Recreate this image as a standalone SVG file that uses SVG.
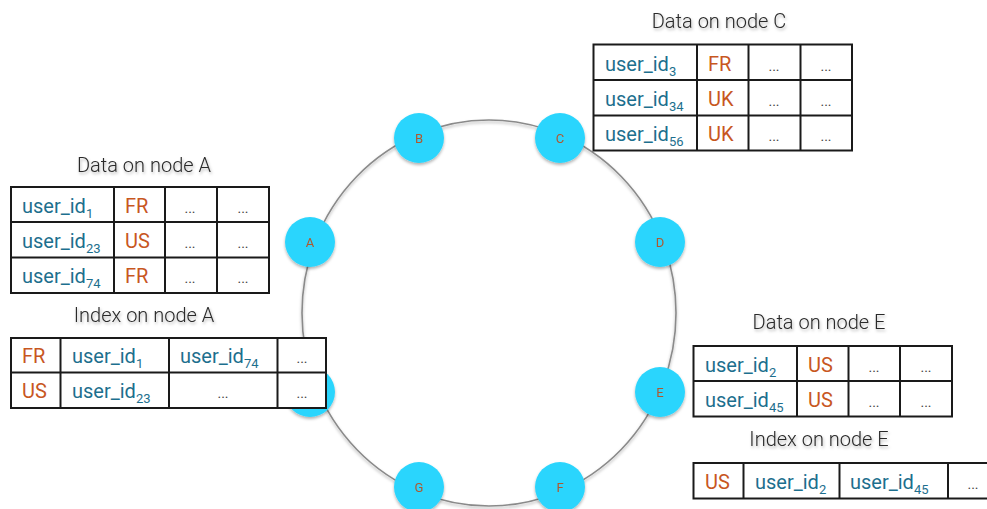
<svg xmlns="http://www.w3.org/2000/svg" width="987" height="509" viewBox="0 0 987 509">
  <defs>
    <filter id="shadow" x="-30%" y="-30%" width="160%" height="170%">
      <feDropShadow dx="0" dy="2" stdDeviation="1.5" flood-color="#000" flood-opacity="0.3"/>
    </filter>
    <filter id="tshadow" x="-10%" y="-40%" width="120%" height="200%">
      <feDropShadow dx="1" dy="2" stdDeviation="1.6" flood-color="#000" flood-opacity="0.3"/>
    </filter>
  </defs>
  <style>
    .ring { fill: none; stroke: #8a8a8a; stroke-width: 1.6; }
    .node circle { fill: #2bd5fd; }
    .node text { font-family: Roboto, "Liberation Sans", sans-serif; font-size: 13px; fill: #b0582e; text-anchor: middle; }
    .title { font-family: Roboto, "Liberation Sans", sans-serif; font-weight: 300; font-size: 20px; fill: #2a2a2a; text-anchor: middle; }
    .grid { fill: #fff; stroke: #1a1a1a; stroke-width: 2; }
    .line { stroke: #1a1a1a; stroke-width: 2; }
    .id { font-family: Roboto, "Liberation Sans", sans-serif; font-size: 20px; fill: #1d6f8e; }
    .cc { font-family: Roboto, "Liberation Sans", sans-serif; font-size: 20px; fill: #c8571f; }
    .sub { font-size: 13px; }
    .dots { font-family: Roboto, "Liberation Sans", sans-serif; font-size: 14px; fill: #444; text-anchor: middle; }
  </style>

  <!-- ring connecting the nodes -->
  <g id="connectors">
    <ellipse class="ring" cx="489" cy="313" rx="187" ry="193" filter="url(#shadow)"/>
  </g>

  <!-- nodes on the ring -->
  <g id="node-a" class="node" filter="url(#shadow)"><circle cx="310" cy="242" r="25"/><text x="310" y="247">A</text></g>
  <g id="node-b" class="node" filter="url(#shadow)"><circle cx="419" cy="138" r="25"/><text x="419" y="143">B</text></g>
  <g id="node-c" class="node" filter="url(#shadow)"><circle cx="560" cy="138" r="25"/><text x="560" y="143">C</text></g>
  <g id="node-d" class="node" filter="url(#shadow)"><circle cx="660" cy="242" r="25"/><text x="660" y="247">D</text></g>
  <g id="node-e" class="node" filter="url(#shadow)"><circle cx="660" cy="392" r="25"/><text x="660" y="397">E</text></g>
  <g id="node-f" class="node" filter="url(#shadow)"><circle cx="560" cy="487" r="25"/><text x="560" y="492">F</text></g>
  <g id="node-g" class="node" filter="url(#shadow)"><circle cx="419" cy="487" r="25"/><text x="419" y="492">G</text></g>
  <g id="node-h" class="node" filter="url(#shadow)"><circle cx="310" cy="392" r="25"/></g>

  <!-- Data on node A -->
  <g id="data-a">
    <text class="title" x="144" y="172" filter="url(#tshadow)">Data on node A</text>
    <rect class="grid" x="11" y="187" width="258" height="106"/>
    <line class="line" x1="114" y1="187" x2="114" y2="293"/>
    <line class="line" x1="165" y1="187" x2="165" y2="293"/>
    <line class="line" x1="217" y1="187" x2="217" y2="293"/>
    <line class="line" x1="11" y1="222" x2="269" y2="222"/>
    <line class="line" x1="11" y1="257.5" x2="269" y2="257.5"/>
    <text class="id" x="22" y="213">user_id<tspan class="sub" dy="5">1</tspan></text>
    <text class="id" x="22" y="248">user_id<tspan class="sub" dy="5">23</tspan></text>
    <text class="id" x="22" y="283">user_id<tspan class="sub" dy="5">74</tspan></text>
    <text class="cc" x="125" y="213">FR</text>
    <text class="cc" x="125" y="248">US</text>
    <text class="cc" x="125" y="283">FR</text>
    <text class="dots" x="190" y="213">...</text><text class="dots" x="243" y="213">...</text>
    <text class="dots" x="190" y="248">...</text><text class="dots" x="243" y="248">...</text>
    <text class="dots" x="190" y="283">...</text><text class="dots" x="243" y="283">...</text>
  </g>

  <!-- Index on node A -->
  <g id="index-a">
    <text class="title" x="144" y="322" filter="url(#tshadow)">Index on node A</text>
    <rect class="grid" x="11" y="338" width="315" height="70"/>
    <line class="line" x1="60.5" y1="338" x2="60.5" y2="408"/>
    <line class="line" x1="169" y1="338" x2="169" y2="408"/>
    <line class="line" x1="277.5" y1="338" x2="277.5" y2="408"/>
    <line class="line" x1="11" y1="372.5" x2="326" y2="372.5"/>
    <text class="cc" x="22" y="363">FR</text>
    <text class="cc" x="22" y="398">US</text>
    <text class="id" x="72" y="363">user_id<tspan class="sub" dy="5">1</tspan></text>
    <text class="id" x="180" y="363">user_id<tspan class="sub" dy="5">74</tspan></text>
    <text class="id" x="72" y="398">user_id<tspan class="sub" dy="5">23</tspan></text>
    <text class="dots" x="302" y="363">...</text>
    <text class="dots" x="223" y="398">...</text>
    <text class="dots" x="302" y="398">...</text>
  </g>

  <!-- Data on node C -->
  <g id="data-c">
    <text class="title" x="719" y="28" filter="url(#tshadow)">Data on node C</text>
    <rect class="grid" x="593.5" y="44.5" width="258.5" height="106"/>
    <line class="line" x1="697" y1="44.5" x2="697" y2="150.5"/>
    <line class="line" x1="748.5" y1="44.5" x2="748.5" y2="150.5"/>
    <line class="line" x1="800.5" y1="44.5" x2="800.5" y2="150.5"/>
    <line class="line" x1="593.5" y1="80" x2="852" y2="80"/>
    <line class="line" x1="593.5" y1="115.5" x2="852" y2="115.5"/>
    <text class="id" x="605" y="71">user_id<tspan class="sub" dy="5">3</tspan></text>
    <text class="id" x="605" y="106">user_id<tspan class="sub" dy="5">34</tspan></text>
    <text class="id" x="605" y="141">user_id<tspan class="sub" dy="5">56</tspan></text>
    <text class="cc" x="708" y="71">FR</text>
    <text class="cc" x="708" y="106">UK</text>
    <text class="cc" x="708" y="141">UK</text>
    <text class="dots" x="774" y="71">...</text><text class="dots" x="826" y="71">...</text>
    <text class="dots" x="774" y="106">...</text><text class="dots" x="826" y="106">...</text>
    <text class="dots" x="774" y="141">...</text><text class="dots" x="826" y="141">...</text>
  </g>

  <!-- Data on node E -->
  <g id="data-e">
    <text class="title" x="819" y="329" filter="url(#tshadow)">Data on node E</text>
    <rect class="grid" x="693.5" y="346" width="258.5" height="70.5"/>
    <line class="line" x1="797" y1="346" x2="797" y2="416.5"/>
    <line class="line" x1="848.5" y1="346" x2="848.5" y2="416.5"/>
    <line class="line" x1="900" y1="346" x2="900" y2="416.5"/>
    <line class="line" x1="693.5" y1="381" x2="952" y2="381"/>
    <text class="id" x="705" y="372">user_id<tspan class="sub" dy="5">2</tspan></text>
    <text class="id" x="705" y="407">user_id<tspan class="sub" dy="5">45</tspan></text>
    <text class="cc" x="808" y="372">US</text>
    <text class="cc" x="808" y="407">US</text>
    <text class="dots" x="874" y="372">...</text><text class="dots" x="926" y="372">...</text>
    <text class="dots" x="874" y="407">...</text><text class="dots" x="926" y="407">...</text>
  </g>

  <!-- Index on node E -->
  <g id="index-e">
    <text class="title" x="819" y="446" filter="url(#tshadow)">Index on node E</text>
    <rect class="grid" x="693.5" y="463" width="310" height="35.5"/>
    <line class="line" x1="743.5" y1="463" x2="743.5" y2="498.5"/>
    <line class="line" x1="839.5" y1="463" x2="839.5" y2="498.5"/>
    <line class="line" x1="948" y1="463" x2="948" y2="498.5"/>
    <text class="cc" x="705" y="489">US</text>
    <text class="id" x="755" y="489">user_id<tspan class="sub" dy="5">2</tspan></text>
    <text class="id" x="850" y="489">user_id<tspan class="sub" dy="5">45</tspan></text>
    <text class="dots" x="973" y="489">...</text>
  </g>
</svg>
